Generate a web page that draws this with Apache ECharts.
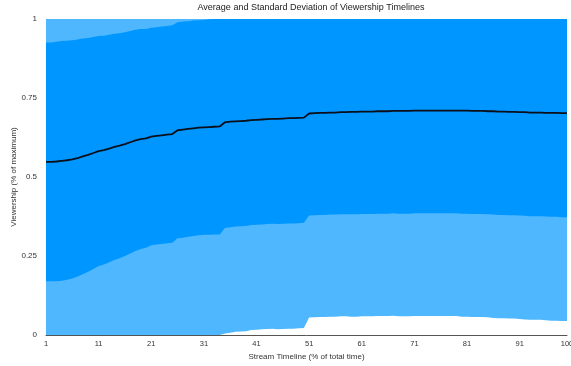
<!DOCTYPE html>
<html>
<head>
<meta charset="utf-8">
<script src="https://cdn.jsdelivr.net/npm/echarts@6/dist/echarts.min.js"></script>
<style>html,body{margin:0;padding:0;background:#fff}#c{width:571px;height:366px}</style>
</head>
<body>
<div id="c"></div>
<script>
// Stream timeline positions 1..100 (% of total time)
const categories = [];
for (let i = 1; i <= 100; i++) categories.push(String(i));

// Average viewership (fraction of maximum)
const meanValues = [
  0.548,0.548,0.549,0.551,0.553,0.556,0.560,0.565,0.570,0.576,
  0.582,0.585,0.590,0.595,0.599,0.604,0.610,0.616,0.620,0.622,
  0.628,0.630,0.632,0.634,0.636,0.648,0.650,0.652,0.654,0.656,
  0.657,0.658,0.659,0.660,0.673,0.675,0.676,0.677,0.678,0.680,
  0.681,0.682,0.683,0.684,0.684,0.685,0.686,0.686,0.687,0.688,
  0.701,0.702,0.703,0.703,0.704,0.704,0.705,0.705,0.706,0.706,
  0.707,0.707,0.707,0.708,0.708,0.708,0.709,0.709,0.709,0.709,
  0.710,0.710,0.710,0.710,0.710,0.710,0.710,0.710,0.710,0.710,
  0.710,0.709,0.709,0.709,0.708,0.708,0.707,0.707,0.706,0.706,
  0.705,0.705,0.704,0.704,0.704,0.703,0.703,0.703,0.702,0.702
];

// Standard deviation
const sdValues = [
  0.378,0.378,0.379,0.379,0.378,0.377,0.375,0.373,0.370,0.367,
  0.364,0.362,0.360,0.358,0.356,0.354,0.352,0.350,0.348,0.346,
  0.344,0.344,0.344,0.344,0.344,0.342,0.342,0.341,0.341,0.340,
  0.340,0.341,0.341,0.342,0.334,0.334,0.333,0.333,0.333,0.332,
  0.332,0.332,0.332,0.332,0.333,0.333,0.333,0.333,0.333,0.333,
  0.323,0.323,0.323,0.323,0.323,0.323,0.323,0.323,0.324,0.324,
  0.324,0.324,0.324,0.324,0.324,0.324,0.324,0.325,0.325,0.325,
  0.325,0.325,0.325,0.325,0.325,0.325,0.325,0.325,0.325,0.326,
  0.326,0.326,0.326,0.326,0.326,0.327,0.327,0.327,0.327,0.327,
  0.327,0.328,0.328,0.328,0.328,0.328,0.329,0.329,0.329,0.329
];

const yTicks = [0, 0.25, 0.5, 0.75, 1];

const clip = v => Math.max(0, Math.min(1, v));
const r = v => Math.round(v * 10000) / 10000;
const lower2 = meanValues.map((m, i) => r(clip(m - 2 * sdValues[i])));
const upper2 = meanValues.map((m, i) => r(clip(m + 2 * sdValues[i])));
const lower1 = meanValues.map((m, i) => r(clip(m - sdValues[i])));
const upper1 = meanValues.map((m, i) => r(clip(m + sdValues[i])));
const band2 = upper2.map((u, i) => r(u - lower2[i]));
const band1 = upper1.map((u, i) => r(u - lower1[i]));

const FONT = '"Liberation Sans", Arial, Helvetica, sans-serif';
const LIGHT = '#4EB7FE';
const DARK = '#0096FF';

const chart = echarts.init(document.getElementById('c'), null, {renderer: 'canvas'});
const hidden = {lineStyle: {opacity: 0}, areaStyle: {opacity: 0}};
chart.setOption({
  animation: false,
  backgroundColor: '#ffffff',
  title: {
    text: 'Average and Standard Deviation of Viewership Timelines',
    left: 306, top: -2, textAlign: 'center',
    textStyle: {fontFamily: FONT, fontSize: 9, fontWeight: 'normal', color: '#222'}
  },
  grid: {left: 46, right: 4, top: 19, bottom: 31, containLabel: false, outerBoundsMode: 'none'},
  xAxis: {
    type: 'category',
    data: categories,
    boundaryGap: false,
    name: 'Stream Timeline (% of total time)',
    nameLocation: 'middle',
    nameGap: 18,
    nameMoveOverlap: false,
    nameTextStyle: {fontFamily: FONT, fontSize: 8, color: '#333'},
    axisLine: {show: true, lineStyle: {color: '#555', width: 1}},
    axisTick: {show: false},
    axisLabel: {
      interval: (idx) => idx % 10 === 0 || idx === 99,
      fontFamily: FONT, fontSize: 7.5, color: '#333', margin: 5
    },
    splitLine: {show: false},
    z: 10
  },
  yAxis: {
    type: 'value',
    min: 0, max: 1, interval: 0.25,
    name: 'Viewership (% of maximum)',
    nameLocation: 'middle',
    nameGap: 28,
    nameMoveOverlap: false,
    nameTextStyle: {fontFamily: FONT, fontSize: 8, color: '#333'},
    axisLine: {show: false},
    axisTick: {show: false},
    splitLine: {show: false},
    axisLabel: {
      fontFamily: FONT, fontSize: 8, color: '#333', margin: 9,
      formatter: v => (yTicks.indexOf(v) >= 0 ? String(v) : '')
    }
  },
  series: [
    Object.assign({type: 'line', stack: 'outer', data: lower2, symbol: 'none', silent: true}, hidden),
    {type: 'line', stack: 'outer', data: band2, symbol: 'none', silent: true,
     lineStyle: {width: 0, opacity: 0}, areaStyle: {color: LIGHT, opacity: 1}},
    Object.assign({type: 'line', stack: 'inner', data: lower1, symbol: 'none', silent: true}, hidden),
    {type: 'line', stack: 'inner', data: band1, symbol: 'none', silent: true,
     lineStyle: {width: 0, opacity: 0}, areaStyle: {color: DARK, opacity: 1}},
    {type: 'line', data: meanValues, symbol: 'none', silent: true,
     lineStyle: {color: '#0b0f1a', width: 1.8}, z: 5}
  ]
});
</script>
</body>
</html>
